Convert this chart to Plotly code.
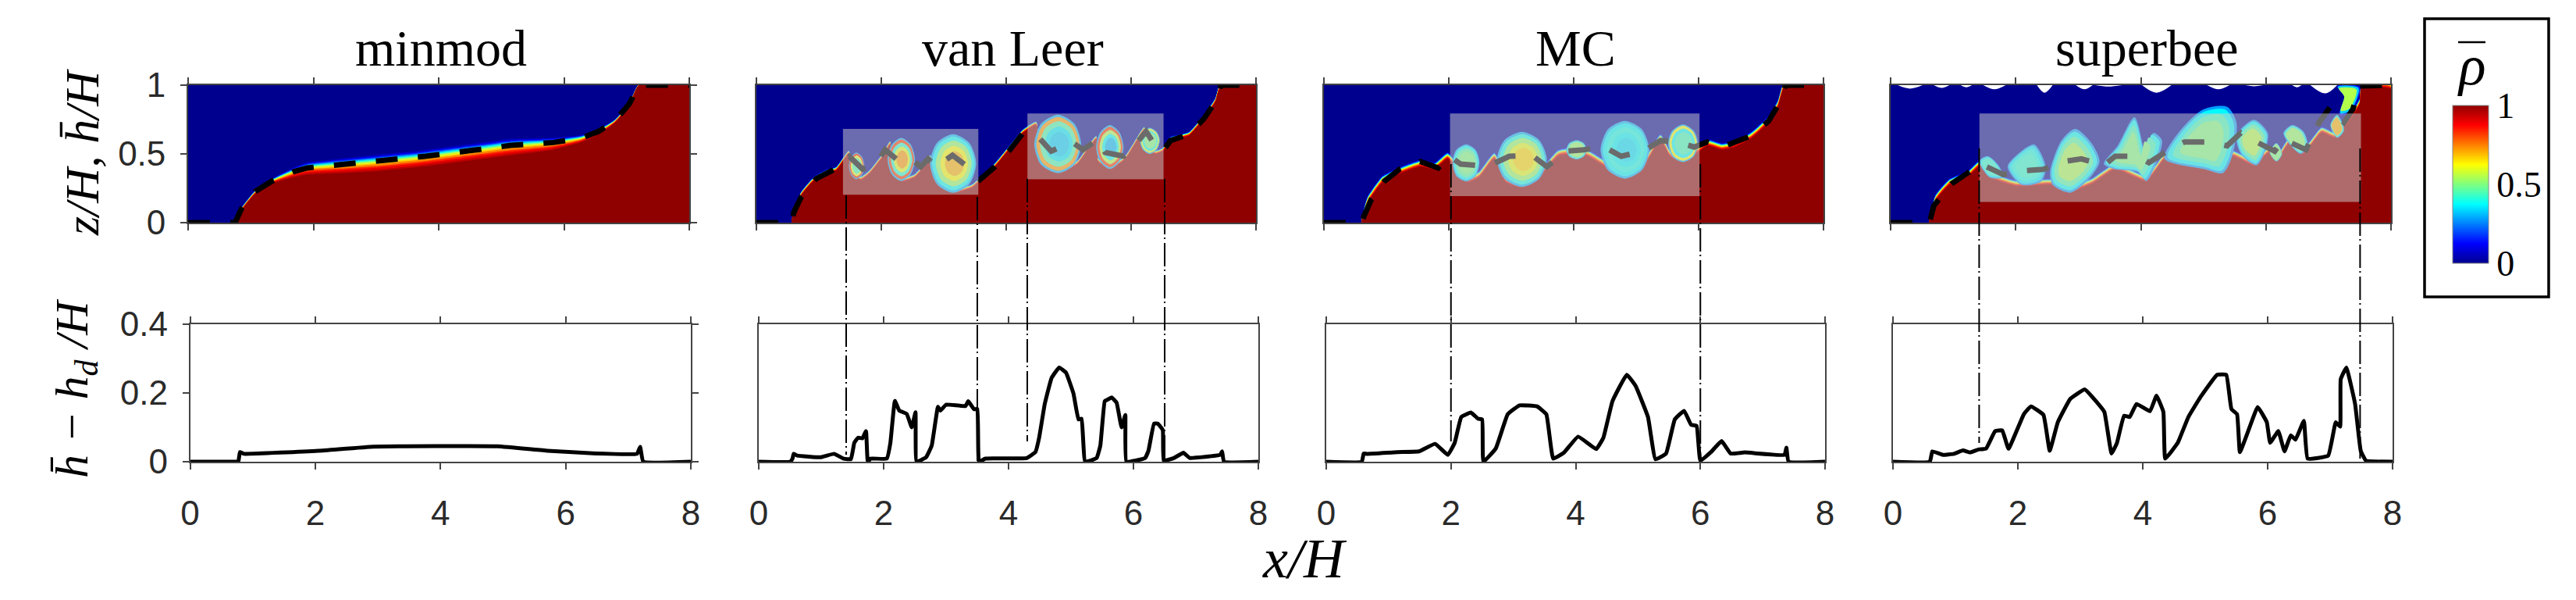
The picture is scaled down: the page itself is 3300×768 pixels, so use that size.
import numpy as np
import plotly.graph_objects as go
from plotly.colors import sample_colorscale
from plotly.subplots import make_subplots

# the page keeps the browser's 8px body margin, figure sits inside it
PAGE = 8
W, H = 3300 - 2 * PAGE, 768 - 2 * PAGE

titles = ["minmod", "van Leer", "MC", "superbee"]
title_px = [565, 1297, 2018, 2750]
ticks_x = [0, 2, 4, 6, 8]

# colours of the field, rho from 0 to 1
jet = [[0, "rgb(0,0,143)"], [0.125, "rgb(0,0,255)"], [0.375, "rgb(0,255,255)"],
       [0.625, "rgb(255,255,0)"], [0.875, "rgb(255,0,0)"], [1, "rgb(143,0,0)"]]
band_levels = [0.03, 0.06, 0.1, 0.16, 0.25, 0.33, 0.42, 0.5, 0.58, 0.67, 0.75, 0.84, 0.9, 0.95, 1.0]
band_height = [0.72, 0.68, 0.65, 0.62, 0.58, 0.54, 0.5, 0.46, 0.42, 0.36, 0.3, 0.22, 0.15, 0.07, 0]
ring_scale = [1.0, 0.92, 0.78, 0.6, 0.42]

# ---- minmod ----
mm_hbar_x = [0, 0.75, 0.85, 1.07, 1.34, 1.68, 1.9, 2.43, 3.04, 3.79, 4.55, 5.15, 5.83, 6.28, 6.55, 6.81, 7.04, 7.2, 8]
mm_hbar_z = [0, 0, 0.1, 0.227, 0.303, 0.37, 0.398, 0.422, 0.445, 0.483, 0.527, 0.562, 0.583, 0.615, 0.663, 0.739, 0.862, 1, 1]
mm_red_x = [0.75, 0.85, 1.07, 1.34, 1.68, 1.9, 2.43, 3.04, 3.79, 4.55, 5.15, 5.83, 6.28, 6.55, 6.81, 7.04, 7.2, 8]
mm_red_z = [0, 0.09, 0.21, 0.285, 0.33, 0.35, 0.36, 0.375, 0.41, 0.455, 0.49, 0.53, 0.585, 0.64, 0.725, 0.85, 1, 1]
mm_band = [0, 0.025, 0.035, 0.05, 0.1, 0.125, 0.15, 0.17, 0.17, 0.17, 0.17, 0.125, 0.075, 0.06, 0.035, 0.025, 0.012, 0]
mm_diff_x = [0, 0.73, 0.77, 0.795, 0.86, 2.05, 2.93, 4.91, 5.71, 6.5, 7.14, 7.19, 7.24, 8]
mm_diff_y = [0, 0, 0, 0.028, 0.023, 0.032, 0.044, 0.045, 0.032, 0.024, 0.023, 0.043, 0, 0]

# ---- van Leer ----
vl_hbar_x = [0, 0.57, 0.6, 0.72, 0.956, 1.195, 1.34, 1.49, 1.7, 1.91, 2.06, 2.24, 2.48, 2.63, 2.75, 2.87, 3.14, 3.38,
             3.58, 3.82, 4.06, 4.27, 4.51, 4.72, 5.05, 5.23, 5.47, 5.585, 5.88, 6.0, 6.24, 6.39, 6.51, 6.63, 6.93,
             7.17, 7.35, 7.44, 8]
vl_hbar_z = [0, 0, 0.076, 0.19, 0.32, 0.38, 0.41, 0.48, 0.39, 0.426, 0.53, 0.464, 0.464, 0.407, 0.464, 0.407, 0.49,
             0.407, 0.3125, 0.407, 0.53, 0.653, 0.625, 0.52, 0.587, 0.53, 0.606, 0.51, 0.483, 0.53, 0.663, 0.559,
             0.52, 0.597, 0.644, 0.758, 0.88, 1, 1]
vl_red_x = [0.57, 0.6, 0.72, 0.93, 1.135, 1.28, 1.4, 1.48, 1.55, 1.67, 1.82, 2.03, 2.14, 2.18, 2.33, 2.54, 2.69, 2.78,
            2.84, 2.96, 3.17, 3.46, 3.58, 3.82, 4.06, 4.27, 4.48, 4.54, 4.84, 5.14, 5.44, 5.47, 5.67, 5.91, 6.21,
            6.24, 6.39, 6.51, 6.63, 6.78, 6.93, 7.17, 7.35, 7.44, 8]
vl_red_z = [0, 0.085, 0.2, 0.31, 0.36, 0.38, 0.455, 0.5, 0.35, 0.31, 0.36, 0.483, 0.568, 0.39, 0.3, 0.33, 0.407, 0.468,
            0.39, 0.275, 0.218, 0.256, 0.303, 0.407, 0.54, 0.653, 0.71, 0.483, 0.36, 0.426, 0.606, 0.445, 0.388,
            0.464, 0.672, 0.54, 0.5, 0.52, 0.597, 0.615, 0.634, 0.758, 0.88, 1, 1]
vl_vortex_x = [[1.73, 1.69, 1.6, 1.52, 1.48, 1.52, 1.6, 1.69, 1.73],
               [2.54, 2.47, 2.32, 2.17, 2.1, 2.17, 2.32, 2.47, 2.54],
               [3.52, 3.41, 3.15, 2.89, 2.78, 2.89, 3.15, 3.41, 3.52],
               [5.2, 5.09, 4.83, 4.56, 4.45, 4.56, 4.83, 5.09, 5.2],
               [5.88, 5.81, 5.66, 5.51, 5.44, 5.51, 5.66, 5.81, 5.88],
               [6.46, 6.41, 6.3, 6.19, 6.14, 6.19, 6.3, 6.41, 6.46]]
vl_vortex_z = [[0.41, 0.48, 0.51, 0.48, 0.41, 0.345, 0.316, 0.345, 0.41],
               [0.46, 0.57, 0.617, 0.57, 0.46, 0.35, 0.303, 0.35, 0.46],
               [0.43, 0.58, 0.643, 0.58, 0.43, 0.28, 0.217, 0.28, 0.43],
               [0.57, 0.72, 0.786, 0.72, 0.57, 0.42, 0.36, 0.42, 0.57],
               [0.55, 0.66, 0.71, 0.66, 0.55, 0.44, 0.39, 0.44, 0.55],
               [0.6, 0.66, 0.69, 0.66, 0.6, 0.53, 0.5, 0.53, 0.6]]
vl_vortex_rho = [[0.3, 0.85, 0.6, 0.45],
                 [0.3, 0.82, 0.42, 0.6, 0.72],
                 [0.3, 0.38, 0.52, 0.62, 0.7],
                 [0.3, 0.72, 0.45, 0.36, 0.33],
                 [0.3, 0.82, 0.55, 0.38, 0.31],
                 [0.3, 0.6, 0.4, 0.5]]
vl_box_x = [[1.386, 3.554], [4.34, 6.52]]
vl_box_z = [[0.203, 0.682], [0.316, 0.794]]
vl_diff_x = [0, 0.505, 0.54, 0.56, 0.615, 0.99, 1.205, 1.36, 1.476, 1.53, 1.59, 1.66, 1.717, 1.746, 1.79, 2.05, 2.108,
             2.18, 2.25, 2.37, 2.45, 2.51, 2.527, 2.68, 2.77, 2.87, 2.91, 3.0, 3.31, 3.355, 3.446, 3.5, 3.527, 3.63,
             4.29, 4.43, 4.49, 4.58, 4.69, 4.81, 4.92, 5.04, 5.12, 5.17, 5.227, 5.41, 5.47, 5.54, 5.58, 5.65, 5.73,
             5.81, 5.87, 5.887, 6.186, 6.24, 6.33, 6.39, 6.47, 6.485, 6.646, 6.8, 6.9, 7.39, 7.42, 7.45, 8]
vl_diff_y = [0, 0, 0.009, 0.023, 0.018, 0.013, 0.023, 0.009, 0.0076, 0.055, 0.07, 0.068, 0.089, -0.0015, 0.009, 0.009,
             0.055, 0.177, 0.149, 0.139, 0.1, 0.144, 0, 0.013, 0.047, 0.16, 0.149, 0.166, 0.162, 0.176, 0.153, 0.153,
             0, 0.009, 0.0106, 0.028, 0.07, 0.168, 0.244, 0.274, 0.259, 0.198, 0.123, 0.125, 0, 0.0106, 0.047, 0.176,
             0.18, 0.187, 0.172, 0.1, 0.136, 0, 0.0106, 0.032, 0.111, 0.111, 0.092, 0.003, 0.0106, 0.026, 0.011,
             0.02, 0.03, 0, 0]
vl_link_x = [1.4, 3.5, 4.3, 6.5]
vl_link_px = [[250, 582], [252, 590], [229, 565], [229, 590]]

# ---- MC ----
mc_hbar_x = [0, 0.61, 0.64, 0.76, 0.97, 1.21, 1.54, 1.83, 2.01, 2.19, 2.43, 2.7, 2.97, 3.33, 3.57, 3.87, 4.16, 4.49,
             4.76, 5.12, 5.39, 5.66, 5.93, 6.14, 6.38, 6.55, 6.85, 7.12, 7.27, 7.39, 8]
mc_hbar_z = [0, 0, 0.047, 0.17, 0.303, 0.388, 0.445, 0.398, 0.483, 0.426, 0.417, 0.426, 0.483, 0.49, 0.407, 0.52, 0.53,
             0.55, 0.483, 0.52, 0.597, 0.587, 0.55, 0.587, 0.55, 0.578, 0.634, 0.739, 0.852, 1, 1]
mc_red_x = [0.61, 0.7, 0.94, 1.24, 1.54, 1.77, 1.98, 2.1, 2.31, 2.49, 2.73, 2.91, 3.18, 3.45, 3.75, 3.98, 4.22, 4.82,
            5.09, 5.39, 5.54, 5.72, 6.02, 6.14, 6.38, 6.58, 6.85, 7.12, 7.27, 7.39, 8]
mc_red_z = [0, 0.142, 0.294, 0.36, 0.407, 0.388, 0.464, 0.407, 0.294, 0.33, 0.464, 0.294, 0.256, 0.33, 0.483, 0.5,
            0.483, 0.33, 0.388, 0.597, 0.483, 0.445, 0.52, 0.559, 0.53, 0.55, 0.615, 0.729, 0.843, 1, 1]
mc_vortex_x = [[2.49, 2.43, 2.28, 2.12, 2.06, 2.12, 2.28, 2.43, 2.49],
               [3.57, 3.45, 3.17, 2.89, 2.77, 2.89, 3.17, 3.45, 3.57],
               [4.21, 4.16, 4.05, 3.93, 3.88, 3.93, 4.05, 4.16, 4.21],
               [5.21, 5.09, 4.82, 4.55, 4.43, 4.55, 4.82, 5.09, 5.21],
               [5.99, 5.92, 5.75, 5.58, 5.51, 5.58, 5.75, 5.92, 5.99]]
mc_vortex_z = [[0.44, 0.53, 0.57, 0.53, 0.44, 0.34, 0.3, 0.34, 0.44],
               [0.46, 0.6, 0.66, 0.6, 0.46, 0.32, 0.26, 0.32, 0.46],
               [0.53, 0.58, 0.6, 0.58, 0.53, 0.48, 0.46, 0.48, 0.53],
               [0.53, 0.68, 0.74, 0.68, 0.53, 0.38, 0.32, 0.38, 0.53],
               [0.58, 0.67, 0.715, 0.67, 0.58, 0.48, 0.44, 0.48, 0.58]]
mc_vortex_rho = [[0.3, 0.38, 0.46, 0.5],
                 [0.3, 0.4, 0.52, 0.6, 0.66],
                 [0.3, 0.42, 0.52],
                 [0.3, 0.37, 0.4, 0.37, 0.35],
                 [0.3, 0.62, 0.38, 0.44]]
mc_box_x = [[2.02, 6.015]]
mc_box_z = [[0.193, 0.794]]
mc_diff_x = [0, 0.57, 0.6, 0.655, 1.14, 1.49, 1.746, 1.95, 2.06, 2.165, 2.32, 2.435, 2.5, 2.52, 2.72, 2.91, 3.1, 3.38,
             3.53, 3.64, 3.81, 4.04, 4.33, 4.445, 4.59, 4.82, 4.96, 5.16, 5.28, 5.45, 5.59, 5.74, 5.85, 5.94, 6.0,
             6.17, 6.34, 6.485, 6.71, 7.35, 7.38, 7.415, 8]
mc_diff_y = [0, 0, 0.024, 0.023, 0.028, 0.03, 0.052, 0.02, 0.055, 0.13, 0.143, 0.125, 0.123, 0, 0.039, 0.138, 0.164,
             0.161, 0.138, 0.009, 0.026, 0.073, 0.037, 0.07, 0.176, 0.253, 0.221, 0.13, 0.007, 0.024, 0.123, 0.148,
             0.108, 0.104, 0.003, 0.028, 0.06, 0.024, 0.027, 0.02, 0.041, 0, 0]
mc_link_x = [2.0, 6.0]
mc_link_px = [[210, 565], [210, 588]]

# ---- superbee ----
sb_hbar_x = [0, 0.62, 0.69, 0.975, 1.23, 1.44, 1.8, 2.16, 2.44, 2.77, 3.05, 3.41, 3.59, 3.95, 4.13, 4.49, 4.7, 5.1,
             5.38, 5.6, 5.85, 6.14, 6.28, 6.64, 6.85, 7.03, 7.25, 7.39, 7.5, 7.78, 8]
sb_hbar_z = [0, 0, 0.123, 0.284, 0.36, 0.426, 0.35, 0.379, 0.388, 0.445, 0.464, 0.417, 0.483, 0.483, 0.436, 0.54,
             0.587, 0.587, 0.559, 0.653, 0.587, 0.52, 0.606, 0.53, 0.729, 0.843, 0.729, 0.824, 0.994, 1, 1]
sb_red_x = [0.62, 0.72, 0.94, 1.23, 1.42, 1.58, 2.01, 2.59, 2.87, 3.23, 3.59, 4.09, 4.38, 4.6, 5.03, 5.31, 5.46, 5.81,
            6.06, 6.17, 6.39, 6.6, 6.89, 7.1, 7.32, 7.5, 7.53, 7.82, 8]
sb_red_z = [0, 0.16, 0.275, 0.33, 0.407, 0.33, 0.265, 0.275, 0.227, 0.284, 0.388, 0.303, 0.464, 0.52, 0.388, 0.36,
            0.483, 0.417, 0.511, 0.445, 0.587, 0.5, 0.653, 0.616, 0.729, 0.862, 0.985, 0.985, 0.972]
sb_vortex_x = [[1.42, 1.55, 1.72, 1.8, 1.58, 1.42],
               [1.87, 2.09, 2.3, 2.48, 2.41, 2.09, 1.87],
               [2.55, 2.73, 2.95, 3.2, 3.34, 3.16, 2.87, 2.59, 2.55],
               [3.41, 3.63, 3.9, 4.09, 4.2, 4.34, 4.09, 3.95, 3.59, 3.41],
               [4.38, 4.6, 5.0, 5.38, 5.53, 5.46, 5.31, 5.03, 4.38],
               [5.53, 5.81, 6.03, 6.0, 5.85, 5.6, 5.53],
               [6.06, 6.17, 6.26, 6.17, 6.06],
               [6.28, 6.42, 6.6, 6.67, 6.56, 6.35, 6.28],
               [7.03, 7.14, 7.25, 7.14, 7.03],
               [7.14, 7.25, 7.18, 7.36, 7.5, 7.14]]
sb_vortex_z = [[0.45, 0.485, 0.42, 0.33, 0.33, 0.45],
               [0.407, 0.52, 0.568, 0.407, 0.3, 0.275, 0.407],
               [0.369, 0.597, 0.682, 0.587, 0.445, 0.3125, 0.218, 0.275, 0.369],
               [0.426, 0.559, 0.767, 0.483, 0.653, 0.597, 0.303, 0.369, 0.388, 0.426],
               [0.464, 0.653, 0.824, 0.843, 0.729, 0.483, 0.36, 0.388, 0.464],
               [0.634, 0.748, 0.653, 0.54, 0.417, 0.5, 0.634],
               [0.511, 0.58, 0.5, 0.445, 0.511],
               [0.653, 0.71, 0.663, 0.559, 0.5, 0.587, 0.653],
               [0.71, 0.786, 0.672, 0.616, 0.71],
               [0.994, 0.919, 0.786, 0.805, 0.985, 0.994]]
sb_vortex_rho = [[0.28, 0.36, 0.42],
                 [0.28, 0.36, 0.4, 0.42],
                 [0.28, 0.38, 0.46, 0.54],
                 [0.28, 0.38, 0.44, 0.5],
                 [0.28, 0.37, 0.44, 0.5],
                 [0.28, 0.38, 0.46, 0.55],
                 [0.3, 0.5],
                 [0.28, 0.4, 0.52],
                 [0.28, 0.42, 0.7],
                 [0.15, 0.33, 0.55]]
sb_box_x = [[1.42, 7.52]]
sb_box_z = [[0.15, 0.794]]
sb_diff_x = [0, 0.59, 0.63, 0.8, 0.976, 1.12, 1.234, 1.377, 1.49, 1.636, 1.75, 1.85, 2.095, 2.21, 2.41, 2.51, 2.64, 2.84,
             3.07, 3.27, 3.385, 3.5, 3.587, 3.7, 3.79, 3.9, 4.115, 4.22, 4.33, 4.36, 4.56, 4.73, 4.935, 5.19, 5.337,
             5.42, 5.51, 5.555, 5.68, 5.84, 5.986, 6.04, 6.17, 6.27, 6.37, 6.445, 6.58, 6.64, 6.97, 7.09, 7.16, 7.17,
             7.26, 7.4, 7.49, 7.575, 8]
sb_diff_y = [0, 0, 0.03, 0.02, 0.023, 0.033, 0.027, 0.036, 0.038, 0.089, 0.091, 0.038, 0.138, 0.161, 0.136, 0.032, 0.115,
             0.183, 0.21, 0.172, 0.145, 0.024, 0.055, 0.134, 0.13, 0.168, 0.147, 0.192, 0.145, 0.009, 0.055, 0.13,
             0.191, 0.253, 0.253, 0.153, 0.138, 0.028, 0.085, 0.159, 0.115, 0.055, 0.089, 0.03, 0.077, 0.064, 0.119,
             0.009, 0.018, 0.115, 0.102, 0.24, 0.274, 0.168, 0.032, 0.003, 0]
sb_link_x = [1.38, 7.48]
sb_link_px = [[190, 567], [190, 587]]
# white holes along the lid
sb_hole_x = [0.115, 0.31, 0.51, None, 0.69, 0.82, 0.94, None, 1.12, 1.21, 1.3, None, 1.48, 1.66, 1.84, None,
             2.34, 2.46, 2.59, None, 2.96, 3.1, 3.23, None, 3.27, 3.48, 3.7, None, 4.02, 4.25, 4.49, None,
             5.06, 5.24, 5.42, None, 5.67, 5.81, 5.96, None, 6.42, 6.5, 6.57, None, 6.71, 6.95, 7.14]
sb_hole_z = [1, 0.975, 1, None, 1, 0.98, 1, None, 1, 0.985, 1, None, 1, 0.97, 1, None,
             1, 0.945, 1, None, 1, 0.97, 1, None, 1, 0.99, 1, None, 1, 0.945, 1, None,
             1, 0.97, 1, None, 1, 0.992, 1, None, 1, 0.985, 1, None, 1, 0.94, 1]

panels = [
    dict(hbar=(mm_hbar_x, mm_hbar_z), red=(mm_red_x, mm_red_z), band=mm_band, diff=(mm_diff_x, mm_diff_y)),
    dict(hbar=(vl_hbar_x, vl_hbar_z), red=(vl_red_x, vl_red_z), band=0.04, diff=(vl_diff_x, vl_diff_y),
         vortex=(vl_vortex_x, vl_vortex_z, vl_vortex_rho), box=(vl_box_x, vl_box_z), link=(vl_link_x, vl_link_px)),
    dict(hbar=(mc_hbar_x, mc_hbar_z), red=(mc_red_x, mc_red_z), band=0.07, diff=(mc_diff_x, mc_diff_y),
         vortex=(mc_vortex_x, mc_vortex_z, mc_vortex_rho), box=(mc_box_x, mc_box_z), link=(mc_link_x, mc_link_px)),
    dict(hbar=(sb_hbar_x, sb_hbar_z), red=(sb_red_x, sb_red_z), band=0.065, diff=(sb_diff_x, sb_diff_y),
         vortex=(sb_vortex_x, sb_vortex_z, sb_vortex_rho), box=(sb_box_x, sb_box_z), link=(sb_link_x, sb_link_px)),
]

top_px = [(241, 883), (969, 1609), (1696, 2336), (2422, 3063)]
bot_px = [(243.6, 885), (972, 1612), (1699, 2338), (2425, 3065)]
top_y = (109, 285)
bot_y = (415, 591)


def px(x):
    return (x - PAGE) / W


def py(y):
    return 1 - (y - PAGE) / H


def rho_color(r):
    return sample_colorscale(jet, [r])[0]


def fill_trace(x, y, color, smooth=0.5):
    return go.Scatter(x=x, y=y, mode="lines", fill="toself", fillcolor=color,
                      line=dict(width=0, shape="spline", smoothing=smooth, color=color),
                      hoverinfo="skip", showlegend=False)


fig = make_subplots(rows=2, cols=4)

for col, p in enumerate(panels, start=1):
    # lower fluid region, drawn outermost contour first
    fig.add_trace(fill_trace([0, 8, 8, 0, 0], [0, 0, 1, 1, 0], rho_color(0), 0), row=1, col=col)
    if col == 4:
        fig.add_trace(fill_trace(sb_hole_x, sb_hole_z, "white", 1), row=1, col=col)
    rx, rz = np.array(p["red"][0]), np.array(p["red"][1])
    for lev, frac in zip(band_levels, band_height):
        zs = rz + frac * np.array(p["band"]) * np.ones(len(rz))
        fig.add_trace(fill_trace(list(rx) + [8, rx[0]], list(zs) + [0, 0], rho_color(lev)), row=1, col=col)

    # rolled-up billows as nested contours
    if "vortex" in p:
        for vx, vz, rhos in zip(*p["vortex"]):
            vx, vz = np.array(vx), np.array(vz)
            for k, r in zip(ring_scale, rhos):
                fig.add_trace(fill_trace(vx.mean() + k * (vx - vx.mean()), vz.mean() + k * (vz - vz.mean()),
                                         rho_color(r), 0.8), row=1, col=col)

    fig.add_trace(go.Scatter(x=p["hbar"][0], y=p["hbar"][1], mode="lines", cliponaxis=False,
                             line=dict(color="black", width=7, dash="28px,26px"),
                             hoverinfo="skip", showlegend=False), row=1, col=col)

    # pale frames over the mixing zones
    if "box" in p:
        for bx, bz in zip(*p["box"]):
            fig.add_trace(go.Scatter(x=[bx[0], bx[1], bx[1], bx[0], bx[0]], y=[bz[0], bz[0], bz[1], bz[1], bz[0]],
                                     mode="lines", fill="toself", fillcolor="rgba(205,205,205,0.52)",
                                     line=dict(width=0), hoverinfo="skip", showlegend=False), row=1, col=col)

    fig.add_trace(go.Scatter(x=p["diff"][0], y=p["diff"][1], mode="lines", cliponaxis=False,
                             line=dict(color="black", width=5, shape="spline", smoothing=0.3),
                             hoverinfo="skip", showlegend=False), row=2, col=col)

    axis_style = dict(showline=True, linecolor="#444444", linewidth=1.8, showgrid=False, zeroline=False,
                      tickcolor="#444444", tickwidth=1.8, ticklen=8, ticks="outside",
                      tickfont=dict(family="Liberation Sans", size=44, color="#2a2a2a"))
    fig.update_xaxes(axis_style, row=1, col=col, domain=[px(top_px[col - 1][0]), px(top_px[col - 1][1])],
                     range=[0, 8], tickvals=ticks_x, showticklabels=False, mirror="ticks")
    fig.update_xaxes(axis_style, row=2, col=col, domain=[px(bot_px[col - 1][0]), px(bot_px[col - 1][1])],
                     range=[0, 8], tickvals=ticks_x, mirror="ticks", ticklabelstandoff=18)
    first = col == 1
    fig.update_yaxes(axis_style, row=1, col=col, domain=[py(top_y[1]), py(top_y[0])], range=[0, 1],
                     tickvals=[0, 0.5, 1], ticktext=["0", "0.5", "1"], showticklabels=first,
                     ticks="outside" if first else "", mirror="ticks" if first else True, ticklabelstandoff=10)
    fig.update_yaxes(axis_style, row=2, col=col, domain=[py(bot_y[1]), py(bot_y[0])], range=[0, 0.4],
                     tickvals=[0, 0.2, 0.4], ticktext=["0", "0.2", "0.4"], showticklabels=first,
                     ticks="outside" if first else "", mirror="ticks" if first else True, ticklabelstandoff=10)

    # dash-dot links between the two rows
    if "link" in p:
        xref = fig.get_subplot(2, col).xaxis.plotly_name.replace("axis", "")
        for lx, (y0, y1) in zip(*p["link"]):
            fig.add_shape(type="line", xref=xref, yref="paper", x0=lx, x1=lx, y0=py(y0), y1=py(y1),
                          line=dict(color="black", width=2, dash="30px,4px,2px,5px"), layer="above")

    fig.add_annotation(text=titles[col - 1], xref="paper", yref="paper", x=px(title_px[col - 1]), y=py(62),
                       xanchor="center", yanchor="middle", showarrow=False,
                       font=dict(family="Liberation Serif", size=66, color="black"))

# colour scale, carried by one hidden marker
fig.add_trace(go.Scatter(x=[4, 4, 4], y=[0.5, 0.5, 0.5], mode="markers", hoverinfo="skip", showlegend=False,
                         marker=dict(size=1, opacity=0, color=[0, 0.5, 1], cmin=0, cmax=1, colorscale=jet,
                                     showscale=True,
                                     colorbar=dict(x=px(3142), xanchor="left", y=py(236), yanchor="middle",
                                                   thickness=46, thicknessmode="pixels", len=202, lenmode="pixels",
                                                   xpad=0, ypad=0, outlinewidth=1, outlinecolor="#888888",
                                                   tickvals=[0, 0.5, 1], ticktext=["0", "0.5", "1"], ticks="",
                                                   tickfont=dict(family="Liberation Serif", size=46, color="black")))),
              row=1, col=1)

fig.add_shape(type="rect", xref="paper", yref="paper", x0=px(3106), x1=px(3265), y0=py(380), y1=py(24),
              line=dict(color="black", width=3.5), layer="above")
# bar over rho
fig.add_shape(type="line", xref="paper", yref="paper", x0=px(3149), x1=px(3184), y0=py(54), y1=py(54),
              line=dict(color="black", width=2.5), layer="above")

for text, lx, ly, angle, size in [("<i>ρ</i>", 3166, 84, 0, 72),
                                  ("<i>z/H, h\u0304/H</i>", 105, 195, -90, 62),
                                  ("<i>h\u0304 − h<sub>d</sub> /H</i>", 96, 497, -90, 60),
                                  ("<i>x/H</i>", 1672, 715, 0, 72)]:
    fig.add_annotation(text=text, xref="paper", yref="paper", x=px(lx), y=py(ly), xanchor="center", yanchor="middle",
                       textangle=angle, showarrow=False,
                       font=dict(family="Liberation Serif", size=size, color="black"))

fig.update_layout(width=W, height=H, margin=dict(l=0, r=0, t=0, b=0, autoexpand=False), paper_bgcolor="white",
                  plot_bgcolor="white", showlegend=False)

fig.write_html("out.html")
